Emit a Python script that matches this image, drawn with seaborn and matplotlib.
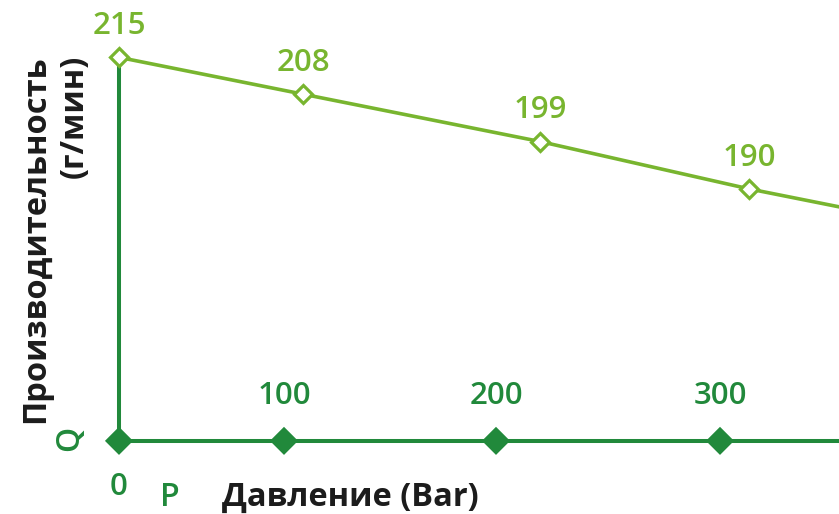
import matplotlib
matplotlib.use("Agg")
import matplotlib.pyplot as plt
import pandas as pd
import seaborn as sns

# flow curve (position along the pressure axis, flow value)
flow_pos = [0, 92, 210.5, 315, 420.5]
flow_vals = [215, 208, 199, 190, 182]
# pressure axis ticks
tick_pos = [0, 82.5, 188.5, 300.5]
tick_labels = ["0", "100", "200", "300"]
base = 142.1

light = "#78b52f"
dark = "#21893b"
ink = "#1c1c1c"

sns.set_theme(style="white")
plt.rcParams["font.family"] = ["Open Sans", "DejaVu Sans"]

fig = plt.figure(figsize=(8.39, 5.14), dpi=100)
ax = fig.add_axes([0, 0, 1, 1])

flow = pd.DataFrame({"p": flow_pos, "q": flow_vals})
ticks = pd.DataFrame({"p": tick_pos, "q": [base] * len(tick_pos)})

# axes drawn as thick green lines
ax.plot([0, 500], [base, base], color=dark, lw=2.9, zorder=2)
ax.plot([0, 0], [base, flow_vals[0]], color=dark, lw=2.9, zorder=2)

sns.scatterplot(data=ticks, x="p", y="q", marker="D", s=205, color=dark,
                edgecolor="none", ax=ax, zorder=3, legend=False)

sns.lineplot(data=flow, x="p", y="q", color=light, lw=2.6, marker="D",
             markersize=9.5, markerfacecolor="white", markeredgecolor=light,
             markeredgewidth=2.3, ax=ax, zorder=4, legend=False)
ax.set_xlim(-59.5, 360)
ax.set_ylim(128.2, 225.9)
ax.axis("off")

for p, q in zip(flow_pos, flow_vals):
    ax.annotate(str(q), (p, q), xytext=(0, 22.5), textcoords="offset points",
                ha="center", va="center", fontsize=22.5, color=light,
                fontweight="semibold")

for i, (p, lab) in enumerate(zip(tick_pos, tick_labels)):
    dy = -33 if i == 0 else 32
    ax.annotate(lab, (p, base), xytext=(0, dy), textcoords="offset points",
                ha="center", va="center", fontsize=22.5, color=dark,
                fontweight="semibold")

fig.text(70 / 839, 1 - 438 / 514, "Q", rotation=90, ha="center", va="center",
         fontsize=23, color=dark, fontweight="semibold")
fig.text(170 / 839, 1 - 497 / 514, "P", ha="center", va="center",
         fontsize=23, color=dark, fontweight="semibold")
fig.text(222 / 839, 1 - 497 / 514, "Давление (Bar)", ha="left", va="center",
         fontsize=23.5, color=ink, fontweight="bold")
fig.text(55 / 839, 1 - 55 / 514, "Производительность\n(г/мин)", rotation=90,
         ha="center", va="top", multialignment="right", linespacing=1.2,
         fontsize=23.5, color=ink, fontweight="bold")

fig.savefig("out.png", dpi=100)
